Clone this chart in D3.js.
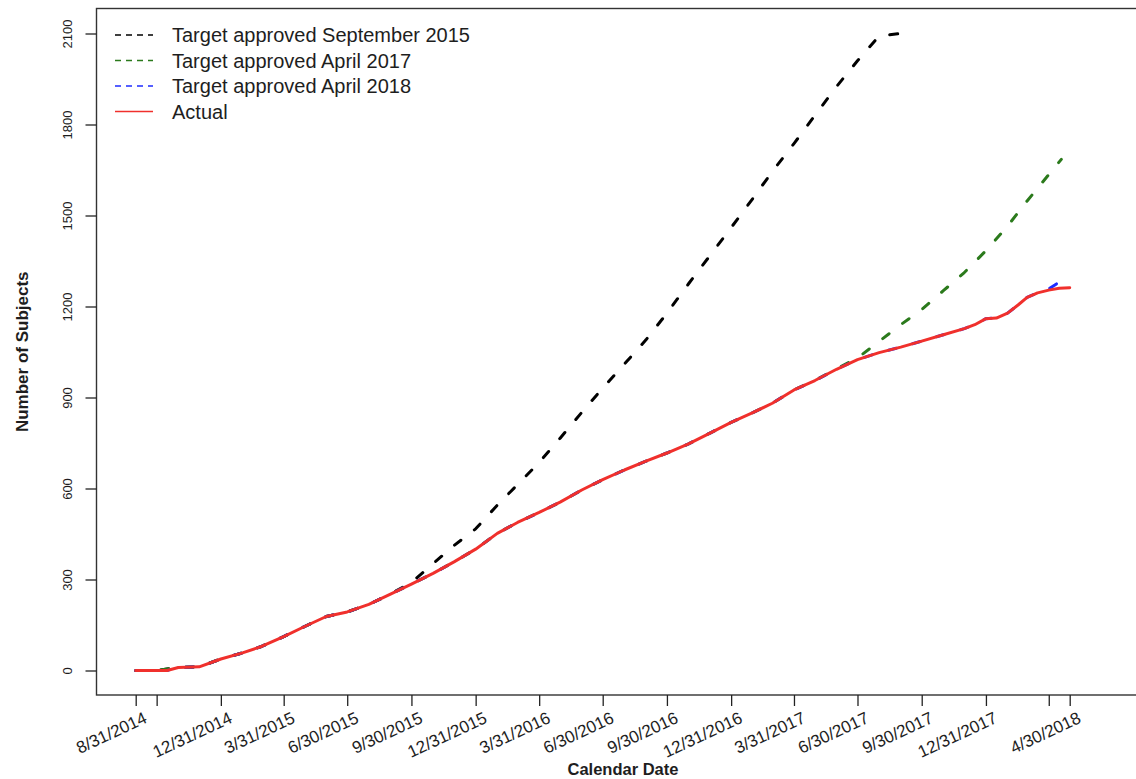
<!DOCTYPE html>
<html>
<head>
<meta charset="utf-8">
<script src="https://cdn.jsdelivr.net/npm/d3@7"></script>
<style>
  body { margin: 0; background: #fff; }
  text { font-family: "Liberation Sans", Arial, sans-serif; fill: #1e1e1e; }
</style>
</head>
<body>
<svg id="chart" width="1136" height="779"></svg>
<script>

// month ends used by the targets
const monthEnds = ["8/31/2014", "9/30/2014", "10/31/2014", "11/30/2014", "12/31/2014",
    "1/31/2015", "2/28/2015", "3/31/2015", "4/30/2015", "5/31/2015", "6/30/2015", "7/31/2015",
    "8/31/2015", "9/30/2015", "10/31/2015", "11/30/2015", "12/31/2015",
    "1/31/2016", "2/29/2016", "3/31/2016", "4/30/2016", "5/31/2016", "6/30/2016", "7/31/2016",
    "8/31/2016", "9/30/2016", "10/31/2016", "11/30/2016", "12/31/2016",
    "1/31/2017", "2/28/2017", "3/31/2017", "4/30/2017", "5/31/2017", "6/30/2017", "7/31/2017",
    "8/31/2017", "9/30/2017", "10/31/2017", "11/30/2017", "12/31/2017",
    "1/31/2018", "2/28/2018", "3/31/2018", "4/30/2018"]

// Target approved September 2015
const target2015Dates = monthEnds.slice(0, 37)
const target2015 = [0, 0, 10, 12, 38, 58, 80, 112, 145, 178, 193, 218, 252, 290, 352, 412, 467,
    545, 613, 686, 766, 851, 931, 1010, 1090, 1178, 1275, 1366, 1460,
    1556, 1645, 1737, 1830, 1925, 2010, 2092, 2100]

// Target approved April 2017
const target2017Dates = monthEnds.slice(0, 44).concat(["4/18/2018"])
const target2017 = [0, 0, 10, 12, 38, 58, 80, 112, 145, 178, 193, 218, 252, 285, 320, 358, 400,
    452, 488, 521, 555, 595, 629, 661, 690, 717, 747, 782, 818,
    850, 881, 925, 956, 995, 1030, 1085, 1140, 1190, 1252, 1312, 1384,
    1465, 1548, 1635, 1685]

// Actual enrolment
const actualDates = ["8/31/2014", "9/30/2014", "10/15/2014", "10/31/2014", "11/30/2014", "12/31/2014",
    "1/31/2015", "2/28/2015", "3/31/2015", "4/30/2015", "5/31/2015", "6/30/2015", "7/31/2015",
    "8/31/2015", "9/30/2015", "10/31/2015", "11/30/2015", "12/31/2015",
    "1/31/2016", "2/29/2016", "3/31/2016", "4/30/2016", "5/31/2016", "6/30/2016", "7/31/2016",
    "8/31/2016", "9/30/2016", "10/31/2016", "11/30/2016", "12/31/2016",
    "1/31/2017", "2/28/2017", "3/31/2017", "4/30/2017", "5/31/2017", "6/30/2017", "7/31/2017",
    "8/31/2017", "9/30/2017", "10/31/2017", "11/30/2017", "12/15/2017", "12/31/2017",
    "1/15/2018", "1/31/2018", "2/15/2018", "2/28/2018", "3/15/2018", "3/31/2018", "4/15/2018", "4/30/2018"]
const actual = [0, 0, 0, 10, 12, 38, 58, 80, 112, 145, 178, 193, 218, 252, 285, 320, 358, 400,
    452, 488, 521, 555, 595, 629, 661, 690, 717, 747, 782, 818,
    850, 881, 925, 956, 993, 1025, 1048, 1066, 1086, 1107, 1127, 1140, 1160,
    1162, 1178, 1205, 1230, 1245, 1254, 1260, 1262]

// Target approved April 2018 (sits under the actual line)
const target2018Dates = actualDates.slice(0, 49).concat(["4/18/2018"])
const target2018 = [0, 0, 0, 10, 12, 38, 58, 80, 112, 145, 178, 193, 218, 252, 285, 320, 358, 400,
    452, 488, 521, 555, 595, 629, 661, 690, 717, 747, 782, 818,
    850, 881, 925, 956, 993, 1025, 1048, 1066, 1086, 1107, 1127, 1140, 1160,
    1162, 1178, 1205, 1230, 1245, 1258, 1285]

const xTickDates = ["8/31/2014", "9/30/2014", "12/31/2014", "3/31/2015", "6/30/2015", "9/30/2015",
    "12/31/2015", "3/31/2016", "6/30/2016", "9/30/2016", "12/31/2016", "3/31/2017",
    "6/30/2017", "9/30/2017", "12/31/2017", "3/31/2018", "4/30/2018"]
const xTickLabels = ["8/31/2014", "", "12/31/2014", "3/31/2015", "6/30/2015", "9/30/2015",
    "12/31/2015", "3/31/2016", "6/30/2016", "9/30/2016", "12/31/2016", "3/31/2017",
    "6/30/2017", "9/30/2017", "12/31/2017", "", "4/30/2018"]
const yTicks = [0, 300, 600, 900, 1200, 1500, 1800, 2100]

const seriesNames = ["Target approved September 2015", "Target approved April 2017", "Target approved April 2018", "Actual"]
const seriesColors = ["#000000", "#2b7a1c", "#1f2cff", "#f0302c"]

let parse = d3.utcParse("%m/%d/%Y")

let svg = d3.select("#chart")
svg.append("rect").attr("width", 1136).attr("height", 779).attr("fill", "#fff")

let plotLeft = 96.5, plotTop = 8.5, plotBottom = 695, plotRight = 1155

var x = d3.scaleUtc()
    .domain([parse("8/31/2014"), parse("4/30/2018")])
    .range([135.7, 1069.7])
var y = d3.scaleLinear()
    .domain([0, 2100])
    .range([670.5, 33.5])

// box
svg.append("rect")
    .attr("x", plotLeft).attr("y", plotTop)
    .attr("width", plotRight - plotLeft).attr("height", plotBottom - plotTop)
    .attr("fill", "none").attr("stroke", "#333").attr("stroke-width", 1.4)

// x axis
let gx = svg.append("g")
    .attr("transform", "translate(0," + plotBottom + ")")
    .call(d3.axisBottom(x)
        .tickValues(xTickDates.map(parse))
        .tickSize(11)
        .tickFormat((d, i) => xTickLabels[i]))
gx.select(".domain").remove()
gx.selectAll(".tick line").attr("stroke", "#222").attr("stroke-width", 1.3)
gx.selectAll(".tick text")
    .attr("x", 0).attr("y", 0).attr("dy", null)
    .attr("text-anchor", "end")
    .attr("font-size", 17)
    .attr("fill", "#1e1e1e")
    .attr("transform", "translate(12,27) rotate(-25)")

// y axis
let gy = svg.append("g")
    .attr("transform", "translate(" + plotLeft + ",0)")
    .call(d3.axisLeft(y).tickValues(yTicks).tickSize(11).tickFormat(d => d))
gy.select(".domain").remove()
gy.selectAll(".tick line").attr("stroke", "#222").attr("stroke-width", 1.3)
gy.selectAll(".tick text")
    .attr("x", 0).attr("y", 0).attr("dy", null)
    .attr("text-anchor", "middle")
    .attr("font-size", 13)
    .attr("fill", "#1e1e1e")
    .attr("transform", "translate(-25,0) rotate(-90)")

// axis titles
svg.append("text")
    .attr("x", 623).attr("y", 775)
    .attr("text-anchor", "middle")
    .attr("font-size", 16.5).attr("font-weight", "bold")
    .text("Calendar Date")
svg.append("text")
    .attr("transform", "translate(28," + ((plotTop + plotBottom) / 2) + ") rotate(-90)")
    .attr("text-anchor", "middle")
    .attr("font-size", 17).attr("font-weight", "bold")
    .text("Number of Subjects")

// lines
let zip = (dates, vals) => dates.map((d, i) => ({ date: parse(d), value: vals[i] }))
let series = [
    zip(target2015Dates, target2015),
    zip(target2017Dates, target2017),
    zip(target2018Dates, target2018),
    zip(actualDates, actual)
]

let line = d3.line()
    .x(d => x(d.date))
    .y(d => y(d.value))

series.forEach((s, i) => {
    svg.append("path")
        .datum(s)
        .attr("d", line)
        .attr("fill", "none")
        .attr("stroke", seriesColors[i])
        .attr("stroke-width", 3)
        .attr("stroke-linecap", "round")
        .attr("stroke-linejoin", "round")
        .attr("stroke-dasharray", i < 3 ? "8,17" : null)
})

// legend
let legend = svg.append("g")
seriesNames.forEach((name, i) => {
    let ly = 35 + i * 25.5
    legend.append("line")
        .attr("x1", 115).attr("x2", 153)
        .attr("y1", ly).attr("y2", ly)
        .attr("stroke", seriesColors[i])
        .attr("stroke-width", 1.4)
        .attr("stroke-dasharray", i < 3 ? "6,5" : null)
    legend.append("text")
        .attr("x", 172).attr("y", ly + 7)
        .attr("font-size", 20)
        .text(name)
})

</script>
</body>
</html>
